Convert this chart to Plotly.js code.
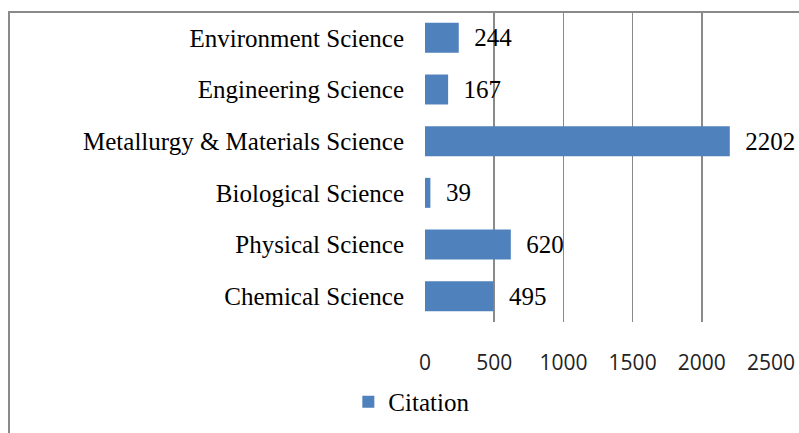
<!DOCTYPE html>
<html>
<head>
<meta charset="utf-8">
<script src="https://cdn.plot.ly/plotly-3.0.1.min.js"></script>
<style>
  html, body { margin: 0; padding: 0; background: #fff; }
  #wrap { position: relative; width: 799px; height: 433px; overflow: hidden; }
  #chart { position: absolute; left: 0; top: 0; width: 799px; height: 433px; }
  #frame { position: absolute; left: 8px; top: 11px; width: 820px; height: 450px;
           border-left: 2px solid #8a8a8a; border-top: 2px solid #8a8a8a; pointer-events: none; }
</style>
</head>
<body>
<div id="wrap">
  <div id="chart"></div>
  <div id="frame"></div>
</div>
<script>
// Data (top-to-bottom as shown)
const categories = [
  "Environment Science",
  "Engineering Science",
  "Metallurgy & Materials Science",
  "Biological Science",
  "Physical Science",
  "Chemical Science"
];
const citations = [244, 167, 2202, 39, 620, 495];
const seriesName = "Citation";
const xTickVals = [0, 500, 1000, 1500, 2000, 2500];
const xTickText = ["0", "500", "1000", "1500", "2000", "2500"];
const xGridVals = xTickVals.slice(0, 5);

const trace = {
  type: "bar",
  orientation: "h",
  y: categories,
  x: citations,
  name: seriesName,
  marker: { color: "#4F81BD" },
  text: citations.map(v => "\u00a0\u00a0" + v),
  textposition: "outside",
  cliponaxis: false,
  textfont: { family: "Liberation Serif", size: 25, color: "#000" },
  hoverinfo: "none"
};

const layout = {
  width: 799,
  height: 433,
  margin: { l: 425, r: 0, t: 12, b: 111, pad: 0 },
  paper_bgcolor: "rgba(0,0,0,0)",
  plot_bgcolor: "#fff",
  bargap: 0.42,
  showlegend: true,
  legend: {
    orientation: "h",
    x: -0.205, xanchor: "left",
    y: -0.258, yanchor: "middle",
    font: { family: "Liberation Serif", size: 25, color: "#000" },
    bgcolor: "rgba(0,0,0,0)"
  },
  xaxis: {
    range: [0, 2702],
    tickmode: "array",
    tickvals: xTickVals,
    ticktext: xTickText,
    showgrid: false,
    zeroline: false,
    showline: false,
    ticks: "",
    ticklabelstandoff: 26,
    tickfont: { family: "Open Sans", size: 21, color: "#222" },
    minor: {
      tickmode: "array",
      tickvals: xGridVals,
      showgrid: true,
      gridcolor: "#8a8a8a",
      gridwidth: 1.5,
      ticks: ""
    },
    fixedrange: true
  },
  yaxis: {
    type: "category",
    autorange: "reversed",
    showgrid: false,
    zeroline: false,
    showline: false,
    ticks: "",
    ticklabelstandoff: 20,
    tickfont: { family: "Liberation Serif", size: 25, color: "#000" },
    fixedrange: true
  }
};

Plotly.newPlot("chart", [trace], layout, { displayModeBar: false, staticPlot: true });
</script>
</body>
</html>
